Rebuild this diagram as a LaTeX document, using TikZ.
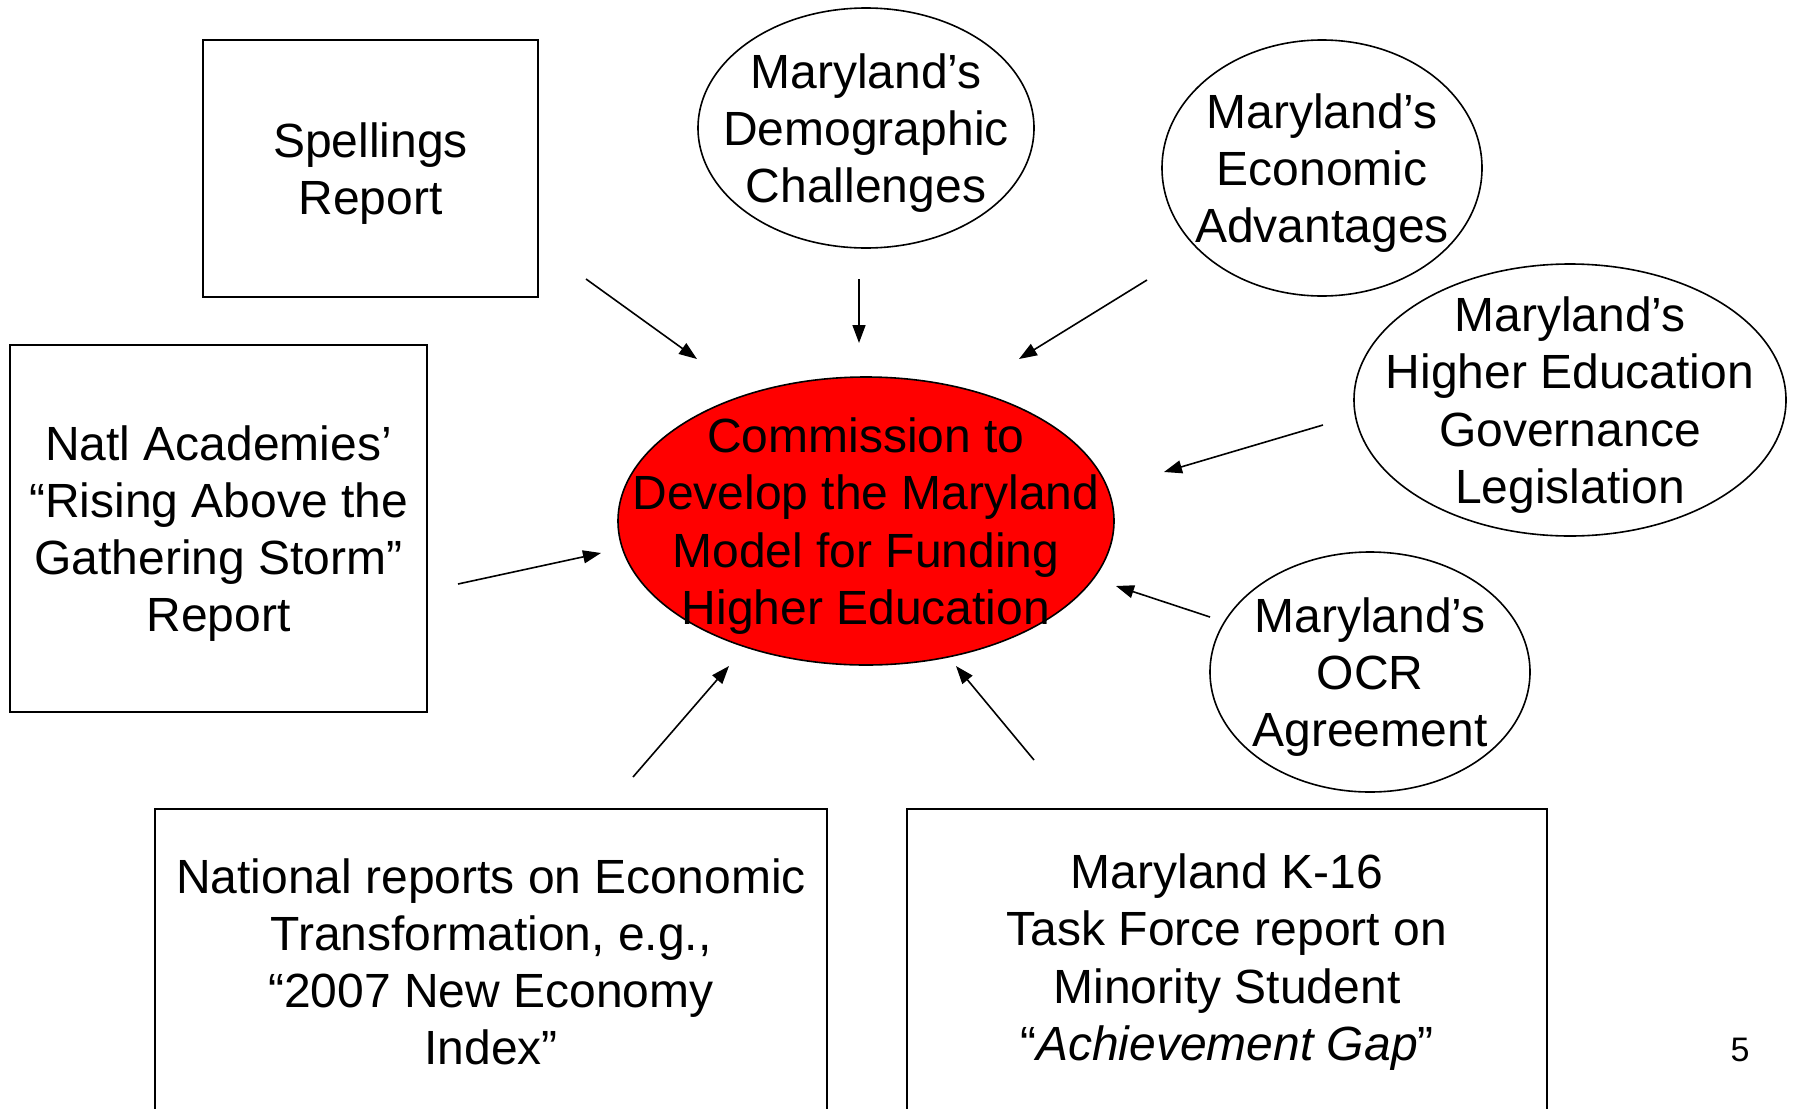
\documentclass[tikz,border=0pt]{standalone}
\usepackage{fontspec}
\setmainfont{Liberation Sans}
\usetikzlibrary{shapes.geometric,arrows.meta}

\begin{document}
\begin{tikzpicture}[x=0.5pt,y=-0.5pt,
  every node/.style={font=\fontsize{24}{28.6}\selectfont,align=center},
  panel/.style={draw,line width=1pt,inner sep=0pt},
  bubble/.style={draw,ellipse,line width=0.8pt,inner sep=0pt},
  txt/.style={label={[yshift=-2.5pt]center:#1}},
  lowtxt/.style={label={[yshift=0pt]center:#1}},
  feed/.style={-{Triangle[length=9pt,width=6.5pt]},line width=0.8pt}]
  \useasboundingbox (0,0) rectangle (1795,1109);
  % centre
  \node[bubble,fill=red,minimum width=248pt,minimum height=144pt,
    txt={Commission to\\Develop the Maryland\\Model for Funding\\Higher Education}] (commission) at (866,521) {};
  % boxes
  \node[panel,minimum width=167.5pt,minimum height=128.5pt,
    txt={Spellings\\Report}] (spellings) at (370.5,168.5) {};
  \node[panel,minimum width=208.5pt,minimum height=183.5pt,
    txt={Natl Academies’\\“Rising Above the\\Gathering Storm”\\Report}] (natl) at (218.5,528.5) {};
  \node[panel,minimum width=336pt,minimum height=153pt,
    lowtxt={National reports on Economic\\Transformation, e.g.,\\“2007 New Economy\\Index”}] (natrep) at (491,962) {};
  \node[panel,minimum width=320pt,minimum height=153pt,
    lowtxt={Maryland K-16\\Task Force report on\\Minority Student\\“\textit{Achievement Gap}”}] (kreport) at (1227,962) {};
  % ellipses
  \node[bubble,minimum width=168pt,minimum height=120pt,
    txt={Maryland’s\\Demographic\\Challenges}] (demog) at (866,128) {};
  \node[bubble,minimum width=160pt,minimum height=128pt,
    txt={Maryland’s\\Economic\\Advantages}] (econ) at (1322,168) {};
  \node[bubble,minimum width=216pt,minimum height=136pt,
    txt={Maryland’s\\Higher Education\\Governance\\Legislation}] (gov) at (1570,400) {};
  \node[bubble,minimum width=160pt,minimum height=120pt,
    txt={Maryland’s\\OCR\\Agreement}] (ocr) at (1370,672) {};
  \node[font=\fontsize{17}{20}\selectfont] (pagenum) at (1740,1050) {5};
  % arrows
  \coordinate (spellings-out) at (586,279);  \coordinate (spellings-in) at (697,359);
  \coordinate (demog-out) at (859,279);      \coordinate (demog-in) at (859,343);
  \coordinate (econ-out) at (1147,280);      \coordinate (econ-in) at (1019,359);
  \coordinate (gov-out) at (1323,425);       \coordinate (gov-in) at (1164,472);
  \coordinate (ocr-out) at (1210,617);       \coordinate (ocr-in) at (1116,586);
  \coordinate (kreport-out) at (1034,760);   \coordinate (kreport-in) at (956,666);
  \coordinate (natrep-out) at (633,777);     \coordinate (natrep-in) at (729,666);
  \coordinate (natl-out) at (458,584);       \coordinate (natl-in) at (601,553);
  \draw[feed] (spellings-out) -- (spellings-in);
  \draw[feed] (demog-out) -- (demog-in);
  \draw[feed] (econ-out) -- (econ-in);
  \draw[feed] (gov-out) -- (gov-in);
  \draw[feed] (ocr-out) -- (ocr-in);
  \draw[feed] (kreport-out) -- (kreport-in);
  \draw[feed] (natrep-out) -- (natrep-in);
  \draw[feed] (natl-out) -- (natl-in);
\end{tikzpicture}
\end{document}
